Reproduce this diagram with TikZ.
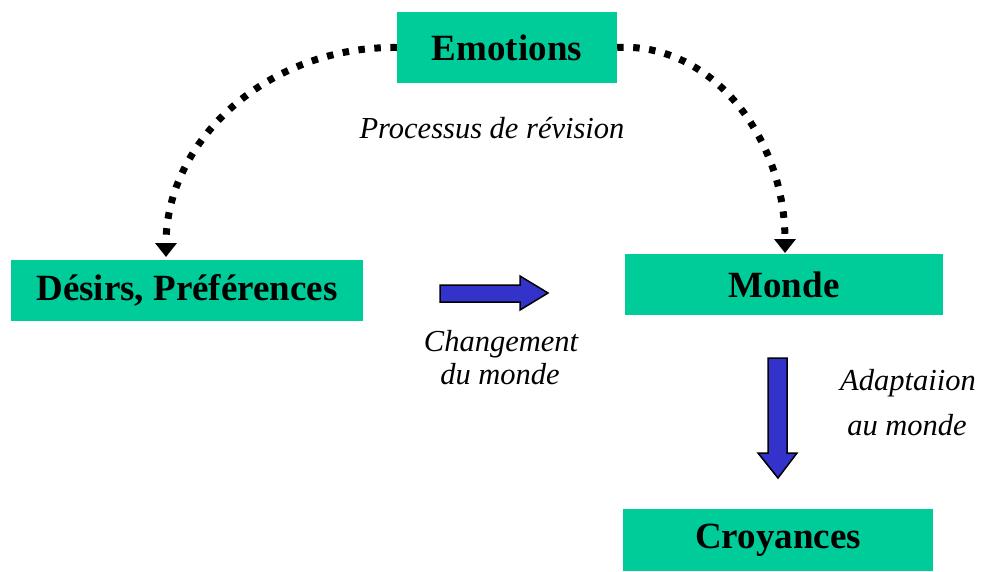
\documentclass[tikz,border=0pt]{standalone}
\usepackage{fontspec}
\setmainfont{Liberation Serif}
\usetikzlibrary{arrows.meta}
\definecolor{boxgreen}{HTML}{00CC99}
\definecolor{arrowblue}{HTML}{3333CC}
\tikzset{
  box/.style={rectangle, fill=boxgreen, inner sep=0pt, font=\bfseries\fontsize{37}{40}\selectfont},
  lbl/.style={inner sep=0pt, anchor=base, font=\itshape\fontsize{30.5}{33}\selectfont},
  dotline/.style={line width=7pt, dash pattern=on 6.5pt off 9.5pt, line cap=butt,
    -{Triangle[width=21pt,length=14pt]}},
  bluearrow/.style={fill=arrowblue, draw=black, line width=1.5pt, line join=miter}
}
\begin{document}
\begin{tikzpicture}[x=1pt,y=-1pt]
\useasboundingbox (0,0) rectangle (986,571);
\node[box, minimum width=220pt, minimum height=71pt] (emo) at (507,47.5) {Emotions};
\node[box, minimum width=352pt, minimum height=61pt] (des) at (187,290.5) {Désirs, Préférences};
\node[box, minimum width=318pt, minimum height=61pt] (mon) at (784,284.5) {Monde};
\node[box, minimum width=310pt, minimum height=62pt] (cro) at (778,540) {Croyances};

\coordinate (lt) at (166,257);
\coordinate (rt) at (785,253);
\draw[dotline] (emo.west) .. controls (268,46) and (166,140) .. (lt);
\draw[dotline] (emo.east) .. controls (711,42) and (785,137) .. (rt);

\node[lbl] (proc) at (492,138) {Processus de révision};
\node[lbl] (chg1) at (501,351) {Changement};
\node[lbl] (chg2) at (500,384) {du monde};
\node[lbl] (ada1) at (908,390) {Adaptaiion};
\node[lbl] (ada2) at (907,435) {au monde};

% blue block arrows
\draw[bluearrow] (440,285) -- (520,285) -- (520,276) -- (548,293) -- (520,310) -- (520,302) -- (440,302) -- cycle;
\draw[bluearrow] (768,358) -- (787,358) -- (787,453) -- (797,453) -- (778,478) -- (758,453) -- (768,453) -- cycle;
\end{tikzpicture}
\end{document}
